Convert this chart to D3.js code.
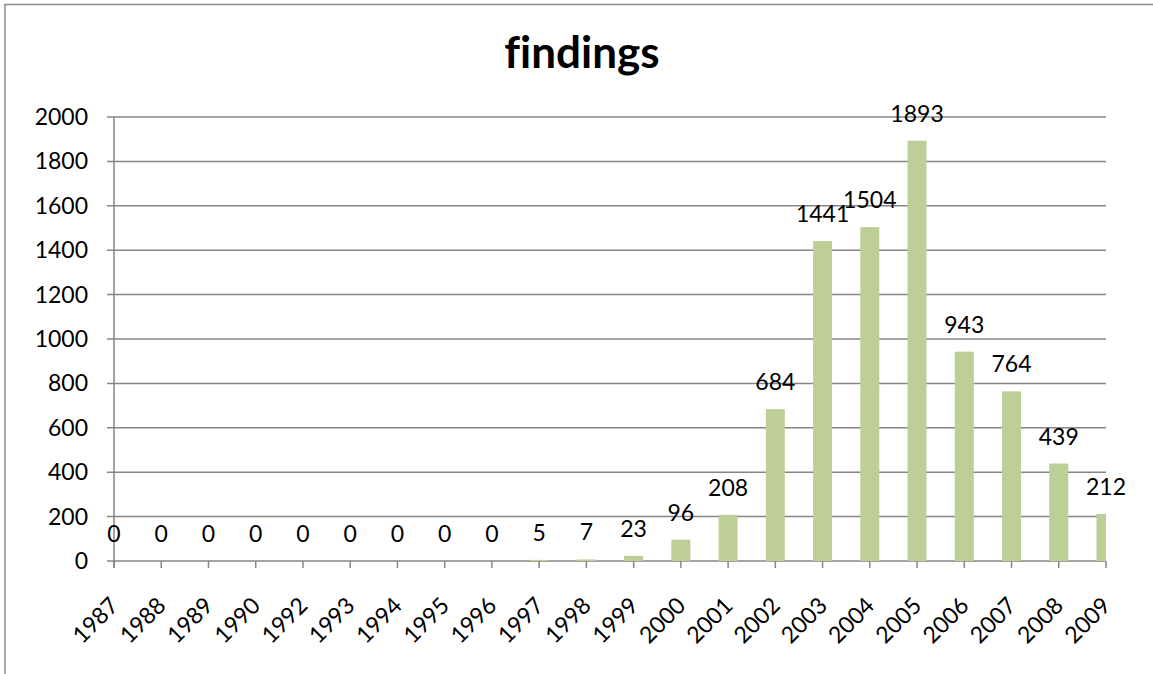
<!DOCTYPE html>
<html>
<head>
<meta charset="utf-8">
<script src="https://cdn.jsdelivr.net/npm/d3@7"></script>
<style>
    body { margin: 0; background: #fff; }
    svg { display: block; font-family: Lato, "Open Sans", sans-serif; font-variant-ligatures: none; }
</style>
</head>
<body>
<div id="chart"></div>
<script>
(function () {
    // data
    var years = ['1987', '1988', '1989', '1990', '1992', '1993', '1994', '1995', '1996', '1997', '1998',
        '1999', '2000', '2001', '2002', '2003', '2004', '2005', '2006', '2007', '2008', '2009'];
    var findings = [0, 0, 0, 0, 0, 0, 0, 0, 0, 5, 7, 23, 96, 208, 684, 1441, 1504, 1893, 943, 764, 439, 212];
    var yTicks = [0, 200, 400, 600, 800, 1000, 1200, 1400, 1600, 1800, 2000];

    var W = 1153, H = 674;
    var left = 114, right = 1106, top = 117, bottom = 561;
    var gridColor = '#868686';
    var fontSize = 23;

    var svg = d3.select('#chart').append('svg')
        .attr('width', W)
        .attr('height', H);

    // chart area border (only top & left show in the picture)
    svg.append('line').attr('x1', 4).attr('x2', W).attr('y1', 4.5).attr('y2', 4.5)
        .attr('stroke', '#8c8c8c').attr('stroke-width', 1.5);
    svg.append('line').attr('x1', 5).attr('x2', 5).attr('y1', 4).attr('y2', H)
        .attr('stroke', '#8c8c8c').attr('stroke-width', 1.5);

    svg.append('text')
        .attr('x', 582)
        .attr('y', 68)
        .attr('text-anchor', 'middle')
        .attr('font-size', 44)
        .attr('font-weight', 'bold')
        .text('findings');

    var x = d3.scalePoint().domain(years).range([left, right]);
    var y = d3.scaleLinear().domain([0, 2000]).range([bottom, top]);

    // gridlines + y ticks
    svg.append('g').selectAll('line').data(yTicks).join('line')
        .attr('x1', left - 7).attr('x2', right)
        .attr('y1', function (d) { return y(d); })
        .attr('y2', function (d) { return y(d); })
        .attr('stroke', gridColor).attr('stroke-width', 1.5);

    svg.append('g').selectAll('text').data(yTicks).join('text')
        .attr('x', 88)
        .attr('y', function (d) { return y(d); })
        .attr('dy', '0.35em')
        .attr('text-anchor', 'end')
        .attr('font-size', fontSize)
        .text(function (d) { return d; });

    // bars, clipped to the plot like the original
    svg.append('clipPath').attr('id', 'plotClip').append('rect')
        .attr('x', left).attr('y', 0).attr('width', right - left).attr('height', bottom);

    var barW = 19;
    svg.append('g').attr('clip-path', 'url(#plotClip)')
        .selectAll('rect').data(findings).join('rect')
        .attr('x', function (d, i) { return x(years[i]) - barW / 2; })
        .attr('y', function (d) { return y(d); })
        .attr('width', barW)
        .attr('height', function (d) { return bottom - y(d); })
        .attr('fill', '#bbcf97');

    // y axis line
    svg.append('line').attr('x1', left).attr('x2', left).attr('y1', top).attr('y2', bottom + 7)
        .attr('stroke', gridColor).attr('stroke-width', 1.5);

    // x ticks
    svg.append('g').selectAll('line').data(years).join('line')
        .attr('x1', function (d) { return x(d); })
        .attr('x2', function (d) { return x(d); })
        .attr('y1', bottom).attr('y2', bottom + 7)
        .attr('stroke', gridColor).attr('stroke-width', 1.5);

    // x labels
    svg.append('g').selectAll('text').data(years).join('text')
        .attr('text-anchor', 'end')
        .attr('font-size', fontSize)
        .attr('transform', function (d) { return 'translate(' + (x(d) + 6) + ',' + 607 + ') rotate(-45)'; })
        .text(function (d) { return d; });

    // value labels
    svg.append('g').selectAll('text').data(findings).join('text')
        .attr('x', function (d, i) { return x(years[i]); })
        .attr('y', function (d) { return y(d) - 19; })
        .attr('text-anchor', 'middle')
        .attr('font-size', fontSize)
        .text(function (d) { return d; });
})();
</script>
</body>
</html>
